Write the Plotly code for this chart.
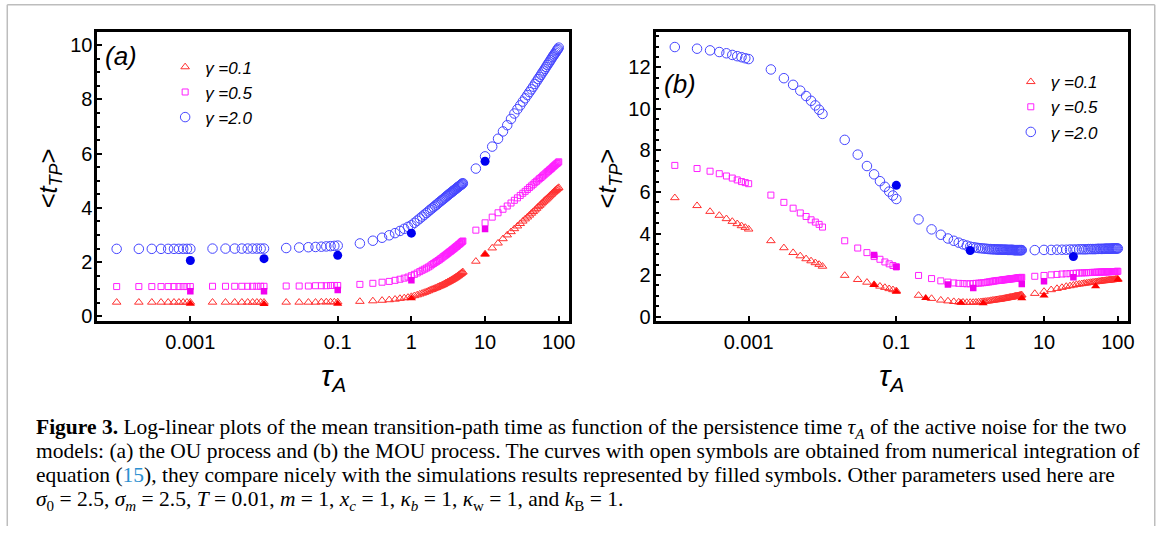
import plotly.graph_objects as go

W, H = 1170, 533

# ---------------- data ----------------
tau = [0.0001, 0.0002, 0.0003, 0.0004, 0.0005, 0.0006, 0.0007, 0.0008, 0.0009, 0.001,
       0.002, 0.003, 0.004, 0.005, 0.006, 0.007, 0.008, 0.009, 0.01,
       0.02, 0.03, 0.04, 0.05, 0.06, 0.07, 0.08, 0.09, 0.1,
       0.2, 0.3, 0.4, 0.5, 0.6, 0.7, 0.8, 0.9,
       1.0, 1.1, 1.2, 1.3, 1.4, 1.5, 1.6, 1.7, 1.8, 1.9,
       2.0, 2.1, 2.2, 2.3, 2.4, 2.5, 2.6, 2.7, 2.8, 2.9,
       3.0, 3.1, 3.2, 3.3, 3.4, 3.5, 3.6, 3.7, 3.8, 3.9,
       4.0, 4.1, 4.2, 4.3, 4.4, 4.5, 4.6, 4.7, 4.8, 4.9, 5.0,
       7.5, 10, 12.5, 15, 17.5, 20, 22.5, 25, 27.5, 30,
       32.5, 35, 37.5, 40, 42.5, 45, 47.5, 50, 52.5, 55,
       57.5, 60, 62.5, 65, 67.5, 70, 72.5, 75, 77.5, 80,
       82.5, 85, 87.5, 90, 92.5, 95, 97.5, 100]

# panel (a): OU process, numerical integration (open symbols)
a_red = [0.52, 0.52, 0.52, 0.52, 0.52, 0.52, 0.52, 0.52, 0.52, 0.52,
         0.52, 0.52, 0.52, 0.52, 0.52, 0.52, 0.52, 0.52, 0.52,
         0.52, 0.52, 0.52, 0.52, 0.53, 0.53, 0.53, 0.53, 0.53,
         0.55, 0.57, 0.59, 0.61, 0.63, 0.66, 0.68, 0.70,
         0.73, 0.76, 0.79, 0.82, 0.85, 0.88, 0.91, 0.94, 0.97, 0.99,
         1.02, 1.04, 1.06, 1.09, 1.11, 1.13, 1.15, 1.17, 1.20, 1.22,
         1.24, 1.26, 1.28, 1.30, 1.32, 1.34, 1.36, 1.38, 1.40, 1.42,
         1.44, 1.46, 1.48, 1.50, 1.52, 1.54, 1.56, 1.58, 1.60, 1.62, 1.64,
         2.03, 2.30, 2.52, 2.70, 2.86, 3.00, 3.12, 3.23, 3.33, 3.42,
         3.51, 3.59, 3.66, 3.73, 3.80, 3.86, 3.92, 3.98, 4.04, 4.09,
         4.14, 4.19, 4.24, 4.28, 4.32, 4.36, 4.40, 4.44, 4.48, 4.51,
         4.55, 4.58, 4.61, 4.64, 4.67, 4.70, 4.72, 4.75]
a_mag = [1.10, 1.10, 1.10, 1.10, 1.10, 1.10, 1.10, 1.10, 1.10, 1.10,
         1.11, 1.11, 1.11, 1.11, 1.11, 1.11, 1.11, 1.11, 1.11,
         1.12, 1.12, 1.12, 1.13, 1.13, 1.13, 1.14, 1.14, 1.14,
         1.18, 1.22, 1.26, 1.29, 1.33, 1.37, 1.41, 1.45,
         1.50, 1.55, 1.60, 1.65, 1.70, 1.74, 1.78, 1.82, 1.86, 1.91,
         1.95, 1.99, 2.02, 2.06, 2.09, 2.13, 2.16, 2.20, 2.23, 2.26,
         2.29, 2.32, 2.35, 2.38, 2.40, 2.43, 2.46, 2.48, 2.51, 2.53,
         2.56, 2.58, 2.60, 2.63, 2.65, 2.67, 2.69, 2.72, 2.74, 2.76, 2.78,
         3.18, 3.45, 3.66, 3.82, 3.95, 4.07, 4.18, 4.28, 4.37, 4.46,
         4.54, 4.61, 4.68, 4.75, 4.81, 4.87, 4.93, 4.98, 5.03, 5.08,
         5.12, 5.17, 5.21, 5.25, 5.29, 5.33, 5.36, 5.40, 5.43, 5.46,
         5.50, 5.53, 5.56, 5.59, 5.62, 5.64, 5.67, 5.70]
a_blue = [2.49, 2.49, 2.49, 2.49, 2.49, 2.49, 2.49, 2.49, 2.49, 2.49,
          2.50, 2.50, 2.50, 2.50, 2.50, 2.50, 2.50, 2.50, 2.50,
          2.52, 2.54, 2.55, 2.56, 2.57, 2.58, 2.59, 2.60, 2.61,
          2.69, 2.79, 2.90, 2.99, 3.07, 3.15, 3.23, 3.30,
          3.36, 3.45, 3.53, 3.61, 3.68, 3.75, 3.81, 3.87, 3.93, 3.98,
          4.03, 4.08, 4.12, 4.17, 4.21, 4.25, 4.29, 4.32, 4.36, 4.39,
          4.43, 4.46, 4.49, 4.52, 4.55, 4.57, 4.60, 4.63, 4.65, 4.68,
          4.70, 4.72, 4.75, 4.77, 4.79, 4.81, 4.83, 4.85, 4.87, 4.89, 4.91,
          5.45, 5.90, 6.26, 6.55, 6.82, 7.05, 7.28, 7.48, 7.64, 7.78,
          7.92, 8.04, 8.16, 8.27, 8.37, 8.47, 8.57, 8.66, 8.75, 8.83,
          8.91, 8.99, 9.06, 9.13, 9.20, 9.27, 9.33, 9.39, 9.45, 9.51,
          9.57, 9.62, 9.67, 9.72, 9.77, 9.82, 9.86, 9.91]

# panel (a): simulations (filled symbols)
a_sim_tau = [0.001, 0.01, 0.1, 1, 10]
a_sim_red = [0.47, 0.46, 0.47, 0.67, 2.28]
a_sim_mag = [0.93, 0.93, 0.97, 1.33, 3.22]
a_sim_blue = [2.06, 2.13, 2.25, 3.07, 5.72]

# panel (b): MOU process, numerical integration (open symbols)
b_red = [5.72, 5.34, 5.06, 4.87, 4.71, 4.58, 4.47, 4.37, 4.29, 4.21,
         3.65, 3.31, 3.08, 2.92, 2.78, 2.68, 2.59, 2.51, 2.42,
         1.98, 1.78, 1.65, 1.54, 1.46, 1.40, 1.34, 1.29, 1.24,
         1.02, 0.87, 0.79, 0.75, 0.72, 0.70, 0.69, 0.68,
         0.68, 0.68, 0.69, 0.70, 0.71, 0.72, 0.73, 0.74, 0.75, 0.77,
         0.78, 0.79, 0.80, 0.81, 0.82, 0.83, 0.84, 0.85, 0.86, 0.87,
         0.88, 0.89, 0.90, 0.91, 0.92, 0.93, 0.93, 0.94, 0.95, 0.96,
         0.97, 0.98, 0.98, 0.99, 1.00, 1.00, 1.01, 1.02, 1.02, 1.03, 1.04,
         1.11, 1.21, 1.29, 1.35, 1.40, 1.45, 1.48, 1.51, 1.54, 1.56,
         1.58, 1.60, 1.61, 1.63, 1.64, 1.65, 1.66, 1.67, 1.68, 1.69,
         1.70, 1.71, 1.72, 1.72, 1.73, 1.74, 1.74, 1.75, 1.76, 1.76,
         1.77, 1.77, 1.78, 1.78, 1.79, 1.79, 1.80, 1.80]
b_mag = [7.28, 7.13, 7.00, 6.88, 6.77, 6.67, 6.58, 6.50, 6.45, 6.40,
         5.85, 5.50, 5.22, 4.99, 4.82, 4.66, 4.55, 4.44, 4.31,
         3.65, 3.30, 3.08, 2.89, 2.76, 2.63, 2.54, 2.46, 2.39,
         1.98, 1.83, 1.72, 1.66, 1.62, 1.60, 1.59, 1.58,
         1.58, 1.59, 1.60, 1.61, 1.62, 1.63, 1.64, 1.66, 1.67, 1.68,
         1.70, 1.71, 1.72, 1.73, 1.74, 1.74, 1.75, 1.76, 1.77, 1.77,
         1.78, 1.79, 1.79, 1.80, 1.81, 1.81, 1.82, 1.82, 1.83, 1.83,
         1.84, 1.84, 1.85, 1.85, 1.86, 1.86, 1.87, 1.87, 1.88, 1.88, 1.89,
         1.94, 1.98, 2.01, 2.03, 2.05, 2.06, 2.07, 2.08, 2.09, 2.10,
         2.10, 2.11, 2.11, 2.12, 2.12, 2.13, 2.13, 2.13, 2.14, 2.14,
         2.14, 2.15, 2.15, 2.15, 2.15, 2.16, 2.16, 2.16, 2.16, 2.16,
         2.17, 2.17, 2.17, 2.17, 2.17, 2.17, 2.18, 2.18]
b_blue = [12.98, 12.90, 12.82, 12.74, 12.68, 12.60, 12.54, 12.49, 12.44, 12.40,
          11.90, 11.48, 11.16, 10.88, 10.62, 10.39, 10.17, 9.96, 9.76,
          8.51, 7.80, 7.25, 6.85, 6.52, 6.25, 6.02, 5.83, 5.66,
          4.68, 4.20, 3.94, 3.76, 3.65, 3.56, 3.48, 3.42,
          3.37, 3.34, 3.32, 3.30, 3.29, 3.28, 3.27, 3.26, 3.25, 3.25,
          3.24, 3.24, 3.24, 3.23, 3.23, 3.23, 3.23, 3.22, 3.22, 3.22,
          3.22, 3.22, 3.21, 3.21, 3.21, 3.21, 3.21, 3.21, 3.21, 3.20,
          3.20, 3.20, 3.20, 3.20, 3.20, 3.20, 3.20, 3.20, 3.20, 3.20, 3.20,
          3.20, 3.21, 3.21, 3.22, 3.22, 3.22, 3.23, 3.23, 3.23, 3.24,
          3.24, 3.24, 3.24, 3.25, 3.25, 3.25, 3.25, 3.25, 3.26, 3.26,
          3.26, 3.26, 3.26, 3.26, 3.27, 3.27, 3.27, 3.27, 3.27, 3.27,
          3.27, 3.28, 3.28, 3.28, 3.28, 3.28, 3.28, 3.28]

# panel (b): simulations (filled symbols)
b_sim_red_tau = [0.05, 0.1, 0.25, 0.75, 1.5, 5, 10, 50, 100]
b_sim_red = [1.52, 1.20, 0.90, 0.67, 0.64, 0.88, 1.02, 1.46, 1.78]
b_sim_mag_tau = [0.05, 0.1, 0.5, 1.1, 5, 10, 25]
b_sim_mag = [2.97, 2.40, 1.54, 1.38, 1.57, 1.70, 1.90]
b_sim_blue_tau = [0.1, 1, 25]
b_sim_blue = [6.32, 3.18, 2.89]

gamma_labels = ["<i>γ =0.1</i>", "<i>γ =0.5</i>", "<i>γ =2.0</i>"]
x_tickvals = [0.001, 0.1, 1, 10, 100]
x_ticktext = ["0.001", "0.1", "1", "10", "100"]

for s in (a_red, a_mag, a_blue, b_red, b_mag, b_blue):
    assert len(s) == len(tau), len(s)

# ---------------- styles ----------------
OPEN_COL = ["#ff3030", "#ff20ff", "#4646ff"]
FILL_COL = ["#ff0000", "#f000f0", "#0000f0"]
OPEN_SYM = ["triangle-up-open", "square-open", "circle-open"]
FILL_SYM = ["triangle-up", "square", "circle"]
OPEN_SIZE = [7.5, 6, 9.5]
FILL_SIZE = [8, 6.5, 9]

fig = go.Figure()

panels = [
    ("x", "y", "legend", [a_red, a_mag, a_blue],
     [(a_sim_tau, a_sim_red), (a_sim_tau, a_sim_mag), (a_sim_tau, a_sim_blue)]),
    ("x2", "y2", "legend2", [b_red, b_mag, b_blue],
     [(b_sim_red_tau, b_sim_red), (b_sim_mag_tau, b_sim_mag), (b_sim_blue_tau, b_sim_blue)]),
]
for xa, ya, lg, opens, fills in panels:
    for i, yv in enumerate(opens):
        fig.add_trace(go.Scatter(
            x=tau, y=yv, mode="markers", name=gamma_labels[i], legend=lg,
            xaxis=xa, yaxis=ya,
            marker=dict(symbol=OPEN_SYM[i], size=OPEN_SIZE[i], color=OPEN_COL[i],
                        line=dict(color=OPEN_COL[i], width=1))))
    for i, (xv, yv) in enumerate(fills):
        fig.add_trace(go.Scatter(
            x=xv, y=yv, mode="markers", showlegend=False,
            xaxis=xa, yaxis=ya,
            marker=dict(symbol=FILL_SYM[i], size=FILL_SIZE[i], color=FILL_COL[i],
                        line=dict(width=0))))

TICKFONT = dict(family="Liberation Sans, Arial, sans-serif", size=20, color="black")
def xax(domain, anchor):
    return dict(domain=domain, type="log", range=[-4.26, 2.14], anchor=anchor,
                tickvals=x_tickvals, ticktext=x_ticktext,
                ticks="inside", ticklen=5, tickwidth=2, tickcolor="black",
                ticklabelstandoff=1,
                showline=True, linewidth=3, linecolor="black", mirror=True,
                showgrid=False, zeroline=False, tickfont=TICKFONT)
def yax(domain, rng, anchor):
    return dict(domain=domain, range=rng, tick0=0, dtick=2, anchor=anchor,
                ticks="inside", ticklen=5, tickwidth=2, tickcolor="black",
                ticklabelstandoff=-2,
                minor=dict(dtick=0.5, ticks="inside", ticklen=3, tickwidth=2,
                           tickcolor="black", showgrid=False),
                showline=True, linewidth=3, linecolor="black", mirror=True,
                showgrid=False, zeroline=False, tickfont=TICKFONT)

ydom = [1 - 325 / H, 1 - 32.3 / H]
LEGFONT = dict(family="Liberation Sans, Arial, sans-serif", size=17, color="black")

def px(x):
    return x / W
def py(y):
    return 1 - y / H

def ann(x, y, text, size, family="Liberation Sans, Arial, sans-serif", **kw):
    d = dict(xref="paper", yref="paper", x=px(x), y=py(y), text=text, showarrow=False,
             font=dict(family=family, size=size, color="black"))
    d.update(kw)
    return d

annotations = [
    ann(104, 57, "<i>(a)</i>", 26, xanchor="left", yanchor="middle"),
    ann(665, 85, "<i>(b)</i>", 26, xanchor="left", yanchor="middle"),
]
for cx in (50, 612):
    annotations.append(ann(cx, 181, "&lt;<i>t</i><sub><i>TP</i></sub>&gt;", 25.5,
                           textangle=-90, xanchor="center", yanchor="middle"))
for cx in (335, 896.5):
    annotations.append(ann(cx, 383, "<i>τ<sub>A</sub></i>", 30,
                           xanchor="center", yanchor="middle"))

caption = [
    "<b>Figure 3.</b> Log-linear plots of the mean transition-path time as function of the persistence time <i>τ<sub>A</sub></i> of the active noise for the two",
    "models: (a) the OU process and (b) the MOU process. The curves with open symbols are obtained from numerical integration of",
    "equation (<span style='color:#2a8fd0'>15</span>), they compare nicely with the simulations results represented by filled symbols. Other parameters used here are",
    "<i>σ</i><sub>0</sub> = 2.5, <i>σ<sub>m</sub></i> = 2.5, <i>T</i> = 0.01, <i>m</i> = 1, <i>x<sub>c</sub></i> = 1, <i>κ<sub>b</sub></i> = 1, <i>κ</i><sub>w</sub> = 1, and <i>k</i><sub>B</sub> = 1.",
]
for k, line in enumerate(caption):
    annotations.append(ann(34, 418.3 + 24.4 * k, line, 21.5,
                           family="Liberation Serif, Times New Roman, serif",
                           xanchor="left", yanchor="top", align="left"))

shapes = [
    dict(type="line", xref="paper", yref="paper", x0=px(7.3), x1=px(7.3), y0=0, y1=py(4.7),
         line=dict(color="#bdbdbd", width=1.5)),
    dict(type="line", xref="paper", yref="paper", x0=px(7.3), x1=px(1160.7), y0=py(4.7), y1=py(4.7),
         line=dict(color="#bdbdbd", width=1.5)),
    dict(type="line", xref="paper", yref="paper", x0=px(1160.7), x1=px(1160.7), y0=0, y1=py(4.7),
         line=dict(color="#bdbdbd", width=1.5)),
]

fig.update_layout(
    width=W, height=H, margin=dict(l=0, r=0, t=0, b=0),
    paper_bgcolor="white", plot_bgcolor="white",
    xaxis=xax([px(98), px(572)], "y"),
    yaxis=yax(ydom, [-0.16, 10.49], "x"),
    xaxis2=xax([px(659), px(1134)], "y2"),
    yaxis2=yax(ydom, [-0.2, 13.71], "x2"),
    legend=dict(x=px(166), y=py(50), xanchor="left", yanchor="top",
                bgcolor="rgba(0,0,0,0)", borderwidth=0, font=LEGFONT),
    legend2=dict(x=px(1016), y=py(65), xanchor="left", yanchor="top",
                 bgcolor="rgba(0,0,0,0)", borderwidth=0, font=LEGFONT),
    annotations=annotations, shapes=shapes,
)

fig.write_html("out.html", config={"displayModeBar": False},
               post_script="document.body.style.margin='0';document.body.style.overflow='hidden';")
